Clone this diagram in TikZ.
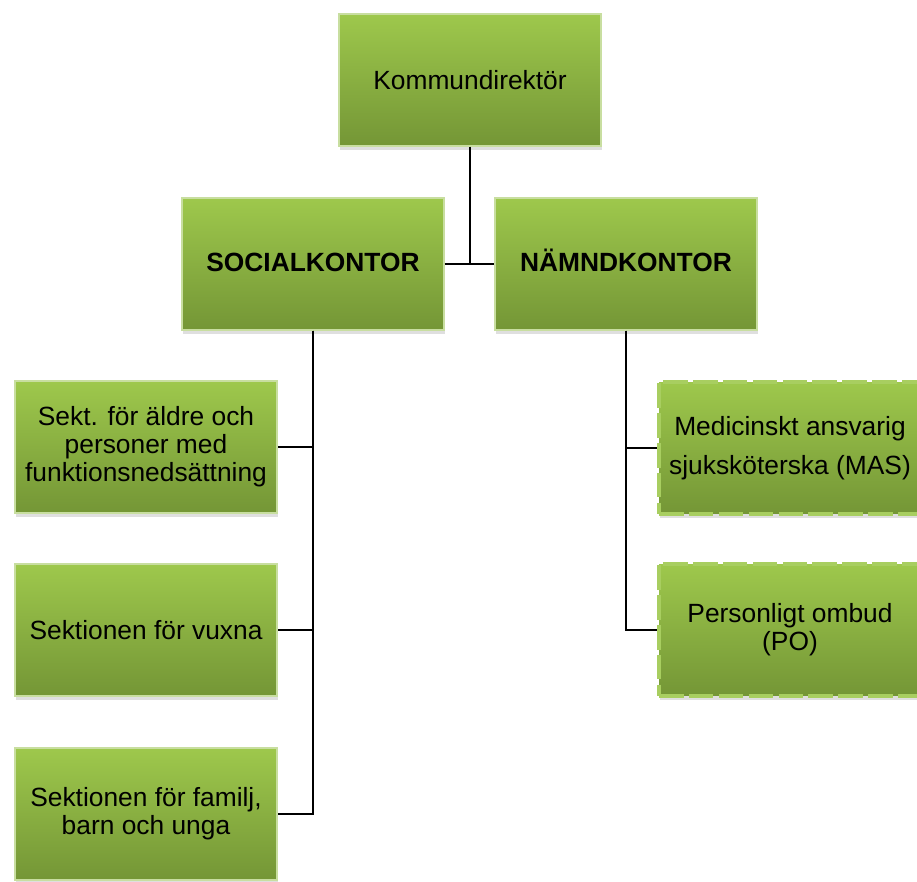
\documentclass[tikz,border=0pt]{standalone}
\usepackage{fontspec}
\setmainfont{Liberation Sans}
\usepackage{xcolor}
\usepackage{tikz}
\usetikzlibrary{positioning, shadows, calc}

\definecolor{boxtop}{RGB}{158,200,76}
\definecolor{boxbot}{RGB}{116,150,54}
\definecolor{boxrim}{RGB}{200,222,160}
\definecolor{boxdash}{RGB}{168,206,96}

\begin{document}
\begin{tikzpicture}[x=0.02cm, y=-0.02cm]

\tikzstyle{unit}=[rectangle, draw=boxrim, line width=0.7pt, top color=boxtop, bottom color=boxbot, minimum width=5.24cm, minimum height=2.64cm, align=center, text=black, font=\fontsize{15}{16}\selectfont, drop shadow={opacity=0.25, shadow xshift=0.6pt, shadow yshift=-2pt}]
\tikzstyle{unitd}=[unit, draw=boxdash, line width=2.4pt, dash pattern=on 14pt off 3pt]
\tikzstyle{head}=[unit, font=\fontsize{15}{16}\selectfont\bfseries, text height=11pt, text depth=3pt]
\tikzstyle{link}=[draw=black, line width=1.3pt]

\useasboundingbox (0,0) rectangle (917,882);
\clip (0,0) rectangle (917,882);

\node (kd) at (470,80) [unit] {Kommundirektör};

\node (sk) at (313,264) [head] {SOCIALKONTOR};
\node (nk) at (626,264) [head] {NÄMNDKONTOR};

\node (s1) at (146,447) [unit] {Sekt. för äldre och\\personer med\\funktionsnedsättning};
\node (s2) at (146,630) [unit] {Sektionen för vuxna};
\node (s3) at (146,814) [unit] {Sektionen för familj,\\barn och unga};

\node (r1) at (790,448) [unitd] {Medicinskt ansvarig\\[6pt]sjuksköterska (MAS)};
\node (r2) at (790,630) [unitd] {Personligt ombud\\(PO)};

\draw [link] (kd.south) -- (kd.south |- sk.east);
\draw [link] (sk.east) -- (nk.west);

\draw [link] (sk.south) |- (s1.east);
\draw [link] (sk.south) |- (s2.east);
\draw [link] (sk.south) |- (s3.east);

\draw [link] (nk.south) |- (r1.west);
\draw [link] (nk.south) |- (r2.west);

\end{tikzpicture}
\end{document}
